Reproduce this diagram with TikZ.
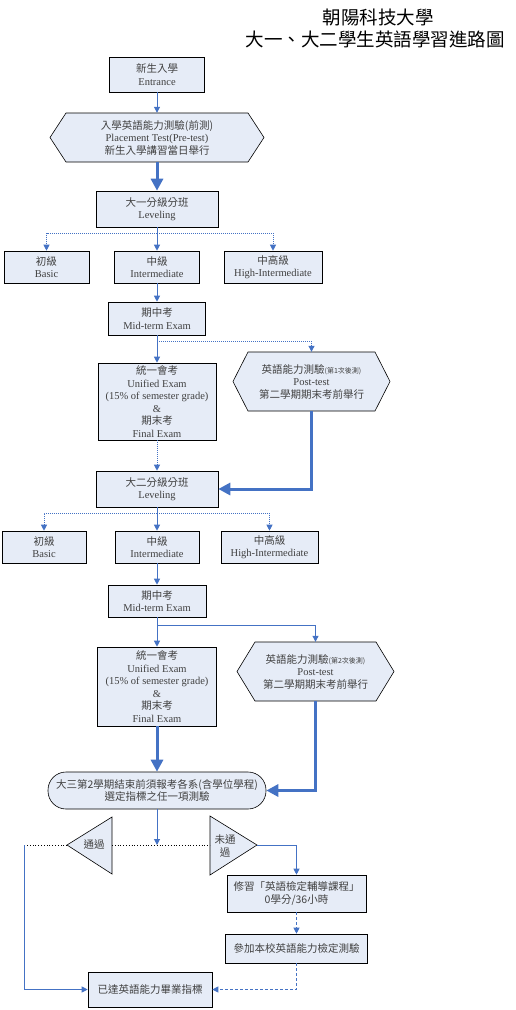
\documentclass[tikz,border=0pt]{standalone}
\usepackage{fontspec}
\setmainfont{Liberation Serif}
\newfontfamily\cjk{Noto Sans CJK TC}
\usepackage{tikz}
\usetikzlibrary{arrows.meta,positioning}
\definecolor{boxblue}{HTML}{E6ECF7}
\definecolor{lineblue}{HTML}{4472C4}
\newcommand{\hexbox}[7]{%
  \filldraw[hexline] ({#2-#4/2},#3) -- ({#2-#4/2+#6},{#3-#5/2}) -- ({#2+#4/2-#6},{#3-#5/2})
    -- ({#2+#4/2},#3) -- ({#2+#4/2-#6},{#3+#5/2}) -- ({#2-#4/2+#6},{#3+#5/2}) -- cycle;
  \node[hextext,minimum width=#4pt,minimum height=#5pt] (#1) at (#2,#3) {#7};}

\begin{document}
\begin{tikzpicture}[x=1pt,y=-1pt,
  box/.style={draw=black,line width=0.6pt,fill=boxblue,align=center,inner sep=1pt,
              text=black!75,font=\fontsize{10.5}{12.5}\selectfont},
  cjkbox/.style={box,font=\cjk\fontsize{10.5}{12.5}\selectfont},
  lvl/.style={box,minimum width=85pt,minimum height=32pt},
  hexline/.style={draw=black,line width=0.6pt,fill=boxblue},
  hextext/.style={align=center,inner sep=1pt,text=black!75,font=\fontsize{10.5}{12.5}\selectfont},
  flow/.style={draw=lineblue,line width=1pt,-{Triangle[length=6pt,width=6pt]}},
  branch/.style={flow,densely dotted},
  bigflow/.style={draw=lineblue,line width=3pt,-{Triangle[length=12pt,width=12pt]}},
  decide/.style={draw=black,line width=0.6pt,fill=boxblue},
  dotline/.style={draw=black,line width=0.8pt,dotted}
]
\useasboundingbox (0,0) rectangle (515,1010);
\node[font=\cjk\fontsize{18.5}{22}\selectfont] (title) at (378,17) {朝陽科技大學};
\node[font=\cjk\fontsize{18.5}{22}\selectfont] (subtitle) at (375,39) {大一、大二學生英語學習進路圖};

\node[box,minimum width=95pt,minimum height=35pt] (entry) at (157,74.5) {{\cjk 新生入學}\\Entrance};
\hexbox{pretest}{157}{137.5}{214}{49}{16}{{\cjk 入學英語能力測驗(前測)}\\Placement Test(Pre-test)\\{\cjk 新生入學講習當日舉行}}
\node[box,minimum width=122pt,minimum height=36pt] (level1) at (157,209) {{\cjk 大一分級分班}\\Leveling};
\node[lvl] (basic1) at (46.5,267) {{\cjk 初級}\\Basic};
\node[lvl] (inter1) at (157,267) {{\cjk 中級}\\Intermediate};
\node[lvl,minimum width=98pt] (high1) at (273,267) {{\cjk 中高級}\\High-Intermediate};
\node[box,minimum width=97pt,minimum height=33pt] (mid1) at (157,318.5) {{\cjk 期中考}\\Mid-term Exam};
\node[box,minimum width=118pt,minimum height=77pt] (unified1) at (157,401.5) {{\cjk 統一會考}\\Unified Exam\\(15\% of semester grade)\\\&\\{\cjk 期末考}\\Final Exam};
\hexbox{post1}{311.5}{381.5}{157}{59}{15}{{\cjk 英語能力測驗{\fontsize{7}{8}\selectfont(第1次後測)}}\\Post-test\\{\cjk 第二學期期末考前舉行}}

\node[box,minimum width=122pt,minimum height=36pt] (level2) at (157,489) {{\cjk 大二分級分班}\\Leveling};
\node[lvl,minimum width=84pt] (basic2) at (44,547) {{\cjk 初級}\\Basic};
\node[lvl,minimum width=84pt] (inter2) at (157,547) {{\cjk 中級}\\Intermediate};
\node[lvl,minimum width=97pt] (high2) at (269.5,547) {{\cjk 中高級}\\High-Intermediate};
\node[box,minimum width=98pt,minimum height=32pt] (mid2) at (157,601) {{\cjk 期中考}\\Mid-term Exam};
\node[box,minimum width=119pt,minimum height=79pt] (unified2) at (157,686.5) {{\cjk 統一會考}\\Unified Exam\\(15\% of semester grade)\\\&\\{\cjk 期末考}\\Final Exam};
\hexbox{post2}{315.5}{671.5}{157}{59}{18}{{\cjk 英語能力測驗{\fontsize{7}{8}\selectfont(第2次後測)}}\\Post-test\\{\cjk 第二學期期末考前舉行}}

\node[cjkbox,rounded corners=18pt,minimum width=218pt,minimum height=37pt] (final) at (157,790.5) {大三第2學期結束前須報考各系(含學位學程)\\選定指標之任一項測驗};
\coordinate (pass) at (67,845);
\coordinate (fail) at (257,845);
\filldraw[decide] (pass) -- (112,817) -- (112,874) -- cycle;
\filldraw[decide] (fail) -- (210,816) -- (210,875) -- cycle;
\node[hextext,font=\cjk\fontsize{10.5}{12.5}\selectfont] (passtxt) at (94,845) {通過};
\node[hextext,font=\cjk\fontsize{10.5}{12.5}\selectfont] (failtxt) at (225,846) {未通\\過};
\node[cjkbox,minimum width=139pt,minimum height=37pt] (course) at (296.5,893.5) {修習「英語檢定輔導課程」\\0學分/36小時};
\node[cjkbox,minimum width=142pt,minimum height=29pt] (exam) at (296.5,948.5) {參加本校英語能力檢定測驗};
\node[cjkbox,minimum width=124pt,minimum height=35pt] (goal) at (150,989.5) {已達英語能力畢業指標};

\coordinate (fork1) at (157,233);
\coordinate (fork2) at (157,341);
\coordinate (fork3) at (157,513);
\coordinate (fork4) at (157,625);
\coordinate (choose) at (157,845);
\coordinate (passedge) at (112,845);
\coordinate (failedge) at (210,845);
\coordinate (passturn) at (24,845);
\draw[flow] (entry) -- (pretest);
\draw[bigflow] (pretest) -- (level1);
\draw[flow] (level1) -- (inter1);
\draw[branch] (fork1) -| (basic1);
\draw[branch] (fork1) -| (high1);
\draw[flow] (inter1) -- (mid1);
\draw[flow] (mid1) -- (unified1);
\draw[branch] (fork2) -| (post1);
\draw[branch] (unified1) -- (level2);
\draw[bigflow] (post1) |- (level2);
\draw[flow] (level2) -- (inter2);
\draw[branch] (fork3) -| (basic2);
\draw[branch] (fork3) -| (high2);
\draw[flow] (inter2) -- (mid2);
\draw[flow] (mid2) -- (unified2);
\draw[flow] (fork4) -| (post2);
\draw[bigflow] (unified2) -- (final);
\draw[bigflow] (post2) |- (final);
\draw[dotline] (passedge) -- (failedge);
\draw[flow] (final) -- (choose);
\draw[dotline] (pass) -- (passturn);
\draw[flow] (passturn) |- (goal);
\draw[flow] (fail) -| (course);
\draw[flow,densely dashed] (course) -- (exam);
\draw[flow,densely dashed] (exam) |- (goal);
\end{tikzpicture}
\end{document}
